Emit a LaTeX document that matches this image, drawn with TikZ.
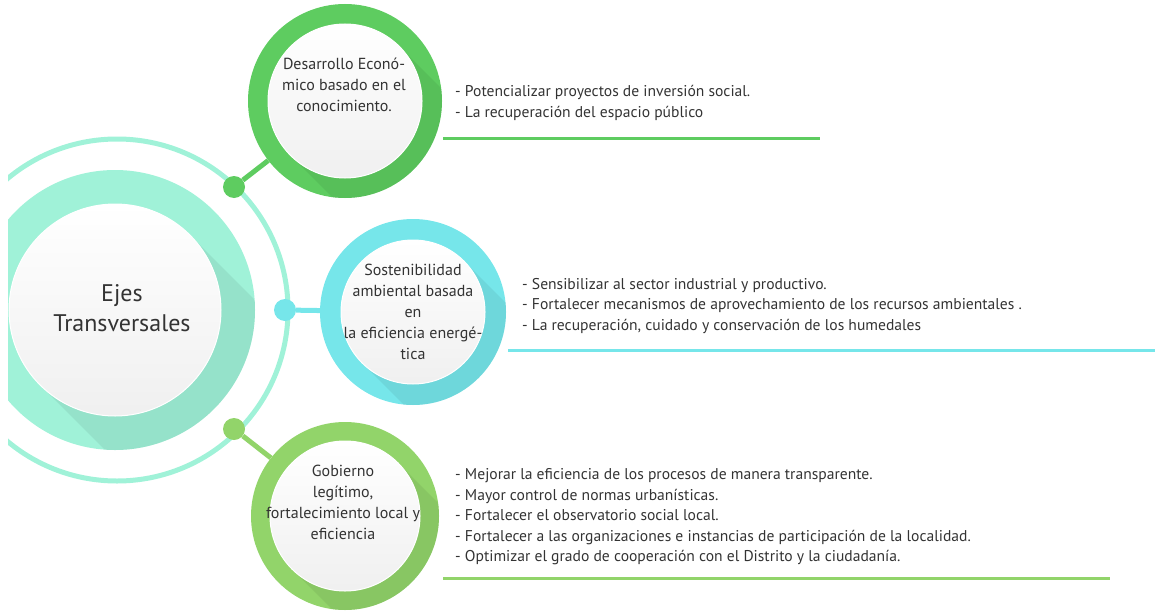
\documentclass[tikz,border=0pt]{standalone}
\usepackage{fontspec}
\setmainfont{PT Sans}
\usetikzlibrary{positioning,calc}

\definecolor{mintring}{RGB}{160,242,216}
\definecolor{leafgreen}{RGB}{94,204,96}
\definecolor{skycyan}{RGB}{118,230,234}
\definecolor{limegreen}{RGB}{146,212,106}
\definecolor{inkgray}{RGB}{51,51,51}

\tikzset{
  disc/.style={circle, inner sep=0pt, minimum size=#1},
  whitedisc/.style={disc=#1, top color=white, bottom color=black!6, draw=white, line width=1pt},
  knob/.style={circle, inner sep=0pt, minimum size=22pt, fill=#1},
  bullets/.style={align=left, anchor=west, font=\fontsize{15.6}{20.5}\selectfont, text=inkgray, inner sep=0pt},
  axislabel/.style={align=center, font=\fontsize{16}{21}\selectfont, text=inkgray, inner sep=0pt},
  tickline/.style={line width=3pt, draw=#1}
}

% long shadow of a white disc inside its coloured ring
\newcommand\longshade[4]{%
  \begin{scope}
    \clip (#1) circle (#3pt);
    \fill[#4!75!black, opacity=0.25]
      ($(#1)+(0.707*#2,-0.707*#2)$) -- ++(300,300)
      -- ($(#1)+(-0.707*#2,0.707*#2)+(300,300)$)
      -- ($(#1)+(-0.707*#2,0.707*#2)$) -- cycle;
  \end{scope}}

\begin{document}
\begin{tikzpicture}[x=1pt, y=-1pt]
  \useasboundingbox (0,0) rectangle (1155,610);

  % central axis
  \coordinate (hub) at (117,310);
  \begin{scope}
    \clip (8,0) rectangle (1155,610);
    \draw[mintring, line width=5pt] (hub) circle (171pt);
    \node[disc=280pt, fill=mintring] (axes) at (115,310) {};
    \longshade{115,310}{106}{140}{mintring}
    \node[whitedisc=212pt] (axesw) at (115,310) {};
  \end{scope}
  \node[axislabel, font=\fontsize{24}{30}\selectfont] (axestxt) at (122,308) {Ejes\\Transversales};

  % knobs on the ring and branch circles
  \node[knob=leafgreen] (dot1) at (234,187) {};
  \node[knob=skycyan] (dot2) at (285,310) {};
  \node[knob=limegreen] (dot3) at (234,429) {};

  \node[disc=194pt, fill=leafgreen] (eco) at (345,101) {};
  \node[disc=186pt, fill=skycyan] (env) at (413,312) {};
  \node[disc=188pt, fill=limegreen] (gov) at (345,516) {};

  \draw[leafgreen, line width=5pt] (dot1) -- (eco);
  \draw[skycyan, line width=5pt] (dot2) -- (env);
  \draw[limegreen, line width=5pt] (dot3) -- (gov);

  \longshade{345,101}{77}{97}{leafgreen}
  \longshade{413,312}{72}{93}{skycyan}
  \longshade{345,516}{75}{94}{limegreen}

  \node[whitedisc=154pt] (ecow) at (345,101) {};
  \node[whitedisc=144pt] (envw) at (413,312) {};
  \node[whitedisc=150pt] (govw) at (345,516) {};

  \node[axislabel] (ecotxt) at (344,85) {Desarrollo Econó-\\mico basado en el\\conocimiento.};
  \node[axislabel] (envtxt) at (413,312) {Sostenibilidad\\ambiental basada\\en\\la eficiencia energé-\\tica};
  \node[axislabel] (govtxt) at (343,502) {Gobierno\\legítimo,\\fortalecimiento local y\\eficiencia};

  % action lists
  \node[bullets] (ecolist) at (455,103) {- Potencializar proyectos de inversión social.\\- La recuperación del espacio público};
  \node[bullets] (envlist) at (522,306) {- Sensibilizar al sector industrial y productivo.\\- Fortalecer mecanismos de aprovechamiento de los recursos ambientales .\\- La recuperación, cuidado y conservación de los humedales};
  \node[bullets] (govlist) at (455,517) {- Mejorar la eficiencia de los procesos de manera transparente.\\- Mayor control de normas urbanísticas.\\- Fortalecer el observatorio social local.\\- Fortalecer a las organizaciones e instancias de participación de la localidad.\\- Optimizar el grado de cooperación con el Distrito y la ciudadanía.};

  \coordinate (ecoA) at (443,138); \coordinate (ecoB) at (820,138);
  \coordinate (envA) at (508,350); \coordinate (envB) at (1155,350);
  \coordinate (govA) at (443,578); \coordinate (govB) at (1110,578);
  \draw[tickline=leafgreen] (ecoA) -- (ecoB);
  \draw[tickline=skycyan] (envA) -- (envB);
  \draw[tickline=limegreen] (govA) -- (govB);
\end{tikzpicture}
\end{document}
